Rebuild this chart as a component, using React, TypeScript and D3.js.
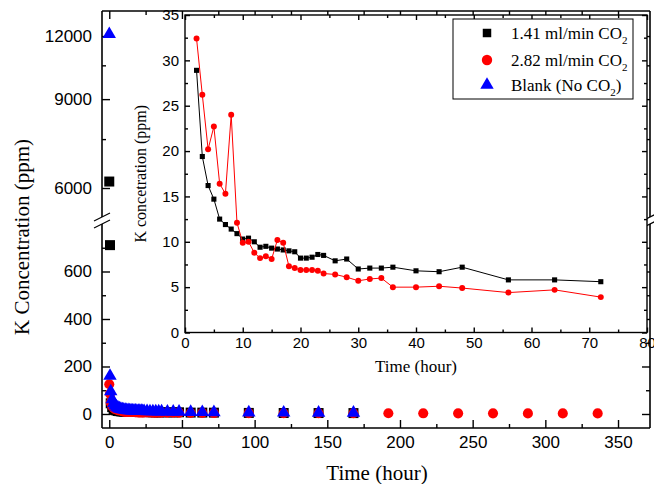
import { useRef, useEffect } from "react";
import * as d3 from "d3";

// sampling times (hour) used in the inset and the main plot
const insetHours = [2, 3, 4, 5, 6, 7, 8, 9, 10, 11, 12, 13, 14, 15, 16, 17, 18, 19, 20, 21, 22, 23, 24, 26, 28, 30, 32, 34, 36, 40, 44, 48, 56, 64, 72];
const k141 = [28.9, 19.4, 16.2, 14.7, 12.5, 11.9, 11.4, 10.9, 10.3, 10.4, 10.0, 9.4, 9.5, 9.3, 9.2, 9.1, 9.0, 8.9, 8.2, 8.2, 8.3, 8.6, 8.5, 7.9, 8.1, 7.0, 7.1, 7.1, 7.2, 6.8, 6.7, 7.2, 5.8, 5.8, 5.6];
const k282 = [32.4, 26.2, 20.2, 22.7, 16.4, 15.3, 24.0, 12.1, 9.9, 10.0, 8.8, 8.2, 8.4, 8.1, 10.2, 9.9, 7.3, 7.1, 6.9, 6.9, 6.9, 6.8, 6.5, 6.4, 6.1, 5.7, 5.9, 6.0, 5.0, 5.0, 5.1, 4.9, 4.4, 4.7, 3.9];
const blankMid = [62, 45, 36, 30, 26, 23, 21, 19, 18, 17, 16, 15.5, 15, 14.5, 14, 14, 13.5, 13, 13, 12.5, 12.5, 12, 12, 11.5, 11, 11, 10.5, 10, 10, 9.5, 9, 9, 8, 7.5, 7];

const earlyHours = [0, 0.5, 1];
const k141Early = [6180, 711, 45];
const k282Early = [125, 85, 48];
const blankEarly = [12100, 160, 95];

const k141LateHours = [96, 120, 144, 168];
const k141Late = [4.5, 4.2, 4.0, 3.8];
const k282LateHours = [96, 120, 144, 168, 192, 216, 240, 264, 288, 312, 336];
const k282Late = [3.5, 3.3, 3.1, 3.0, 2.9, 2.8, 2.7, 2.6, 2.5, 2.5, 2.4];
const blankLateHours = [96, 120, 144, 168];
const blankLate = [6, 5.5, 5, 5];

const xTicks = [0, 50, 100, 150, 200, 250, 300, 350];
const yLowTicks = [0, 200, 400, 600];
const yHighTicks = [6000, 9000, 12000];
const insetXTicks = [0, 10, 20, 30, 40, 50, 60, 70, 80];
const insetYTicks = [0, 5, 10, 15, 20, 25, 30, 35];

const legendItems = [
  { label: "1.41 ml/min CO", sub: "2", tail: "", shape: "square", color: "#000000" },
  { label: "2.82 ml/min CO", sub: "2", tail: "", shape: "circle", color: "#ff0000" },
  { label: "Blank (No CO", sub: "2", tail: ")", shape: "triangle", color: "#0000ff" },
];

export default function App() {
  const ref = useRef<SVGSVGElement>(null);

  function init() {
    const svg = d3.select(ref.current);
    svg.selectAll("*").remove();

    const sans = "'Liberation Sans', Arial, sans-serif";
    const serif = "'Liberation Serif', 'Times New Roman', serif";

    const m = { left: 102, right: 650, top: 11, bottom: 428 };
    const x = d3.scaleLinear().domain([-5, 372]).range([m.left, m.right]);
    const yLow = d3.scaleLinear().domain([-59, 800]).range([m.bottom, 224]);
    const yHigh = d3.scaleLog().domain([5257, 13453]).range([217, m.top]);
    const yMain = (v: number) => (v <= 800 ? yLow(v) : yHigh(v));

    const shapes: Record<string, d3.SymbolType> = {
      square: d3.symbolSquare,
      circle: d3.symbolCircle,
      triangle: d3.symbolTriangle,
    };
    const mainSize: Record<string, number> = { square: 100, circle: 80, triangle: 78 };

    const zip = (hs: number[], vs: number[]) => hs.map((h, i) => [h, vs[i]] as [number, number]);
    const mainSeries = [
      { shape: "square", color: "#000", pts: [...zip(earlyHours, k141Early), ...zip(insetHours, k141), ...zip(k141LateHours, k141Late)] },
      { shape: "circle", color: "#ff0000", pts: [...zip(earlyHours, k282Early), ...zip(insetHours, k282), ...zip(k282LateHours, k282Late)] },
      { shape: "triangle", color: "#0000ff", pts: [...zip(earlyHours, blankEarly), ...zip(insetHours, blankMid), ...zip(blankLateHours, blankLate)] },
    ];

    // main ticks
    const styleAxis = (g: any, size = 17) => {
      g.select(".domain").remove();
      g.selectAll("line").attr("stroke", "#000").attr("stroke-width", 1.4);
      g.selectAll("text").attr("font-family", sans).attr("font-size", size).attr("fill", "#000");
    };
    const noLabel = () => "";

    svg.append("g").attr("transform", `translate(0,${m.bottom})`)
      .call(d3.axisBottom(x).tickValues(xTicks).tickSize(-8).tickPadding(8).tickFormat(d3.format("d")))
      .call(styleAxis);
    svg.append("g").attr("transform", `translate(0,${m.bottom})`)
      .call(d3.axisBottom(x).tickValues(d3.range(25, 350, 50)).tickSize(-4).tickFormat(noLabel))
      .call(styleAxis);
    svg.append("g").attr("transform", `translate(0,${m.top})`)
      .call(d3.axisTop(x).tickValues(xTicks).tickSize(-8).tickFormat(noLabel))
      .call(styleAxis);
    svg.append("g").attr("transform", `translate(0,${m.top})`)
      .call(d3.axisTop(x).tickValues(d3.range(25, 350, 50)).tickSize(-4).tickFormat(noLabel))
      .call(styleAxis);

    const yAxes = [
      { s: yLow, major: yLowTicks, minor: [100, 300, 500, 700] },
      { s: yHigh, major: yHighTicks, minor: [7500, 10500] },
    ];
    yAxes.forEach(({ s, major, minor }) => {
      svg.append("g").attr("transform", `translate(${m.left},0)`)
        .call(d3.axisLeft(s as any).tickValues(major).tickSize(-8).tickPadding(10).tickFormat(d3.format("d") as any))
        .call(styleAxis);
      svg.append("g").attr("transform", `translate(${m.left},0)`)
        .call(d3.axisLeft(s as any).tickValues(minor).tickSize(-4).tickFormat(noLabel))
        .call(styleAxis);
      svg.append("g").attr("transform", `translate(${m.right},0)`)
        .call(d3.axisRight(s as any).tickValues(major).tickSize(-8).tickFormat(noLabel))
        .call(styleAxis);
      svg.append("g").attr("transform", `translate(${m.right},0)`)
        .call(d3.axisRight(s as any).tickValues(minor).tickSize(-4).tickFormat(noLabel))
        .call(styleAxis);
    });

    // main frame with axis breaks
    const frame = svg.append("g").attr("stroke", "#000").attr("stroke-width", 1.6).attr("fill", "none");
    frame.append("line").attr("x1", m.left).attr("x2", m.right).attr("y1", m.bottom).attr("y2", m.bottom);
    frame.append("line").attr("x1", m.left).attr("x2", m.right).attr("y1", m.top).attr("y2", m.top);
    [m.left, m.right].forEach((xx) => {
      frame.append("line").attr("x1", xx).attr("x2", xx).attr("y1", m.bottom).attr("y2", yLow.range()[1]);
      frame.append("line").attr("x1", xx).attr("x2", xx).attr("y1", yHigh.range()[0]).attr("y2", m.top);
      [yLow.range()[1], yHigh.range()[0]].forEach((yy) => {
        frame.append("line").attr("x1", xx - 8).attr("y1", yy + 4).attr("x2", xx + 8).attr("y2", yy - 4).attr("stroke-width", 1.2);
      });
    });

    // main markers
    mainSeries.forEach((sr) => {
      svg.append("g").selectAll("path").data(sr.pts).join("path")
        .attr("transform", (d) => `translate(${x(d[0])},${yMain(d[1])})`)
        .attr("d", d3.symbol(shapes[sr.shape], mainSize[sr.shape])() as string)
        .attr("fill", sr.color);
    });

    // main axis titles
    svg.append("text").attr("x", 377).attr("y", 480).attr("text-anchor", "middle")
      .attr("font-family", serif).attr("font-size", 21).text("Time (hour)");
    svg.append("text").attr("transform", "translate(29,237) rotate(-90)").attr("text-anchor", "middle")
      .attr("font-family", serif).attr("font-size", 21).text("K Concentration (ppm)");

    // inset
    const im = { left: 185, right: 647, top: 15, bottom: 332.5 };
    const ix = d3.scaleLinear().domain([0, 80]).range([im.left, im.right]);
    const iy = d3.scaleLinear().domain([0, 35]).range([im.bottom, im.top]);
    const inset = svg.append("g");
    inset.append("rect").attr("x", im.left).attr("y", im.top)
      .attr("width", im.right - im.left).attr("height", im.bottom - im.top).attr("fill", "#fff");

    const styleInset = (g: any) => styleAxis(g, 15);
    inset.append("g").attr("transform", `translate(0,${im.bottom})`)
      .call(d3.axisBottom(ix).tickValues(insetXTicks).tickSize(-5).tickPadding(5))
      .call(styleInset);
    inset.append("g").attr("transform", `translate(0,${im.bottom})`)
      .call(d3.axisBottom(ix).tickValues(d3.range(5, 80, 10)).tickSize(-3).tickFormat(noLabel))
      .call(styleInset);
    inset.append("g").attr("transform", `translate(0,${im.top})`)
      .call(d3.axisTop(ix).tickValues(insetXTicks).tickSize(-5).tickFormat(noLabel))
      .call(styleInset);
    inset.append("g").attr("transform", `translate(0,${im.top})`)
      .call(d3.axisTop(ix).tickValues(d3.range(5, 80, 10)).tickSize(-3).tickFormat(noLabel))
      .call(styleInset);
    inset.append("g").attr("transform", `translate(${im.left},0)`)
      .call(d3.axisLeft(iy).tickValues(insetYTicks).tickSize(-5).tickPadding(6))
      .call(styleInset);
    inset.append("g").attr("transform", `translate(${im.left},0)`)
      .call(d3.axisLeft(iy).tickValues(d3.range(2.5, 35, 5)).tickSize(-3).tickFormat(noLabel))
      .call(styleInset);
    inset.append("g").attr("transform", `translate(${im.right},0)`)
      .call(d3.axisRight(iy).tickValues(insetYTicks).tickSize(-5).tickFormat(noLabel))
      .call(styleInset);
    inset.append("g").attr("transform", `translate(${im.right},0)`)
      .call(d3.axisRight(iy).tickValues(d3.range(2.5, 35, 5)).tickSize(-3).tickFormat(noLabel))
      .call(styleInset);
    inset.append("rect").attr("x", im.left).attr("y", im.top)
      .attr("width", im.right - im.left).attr("height", im.bottom - im.top)
      .attr("fill", "none").attr("stroke", "#000").attr("stroke-width", 1.4);

    const line = d3.line<[number, number]>().x((d) => ix(d[0])).y((d) => iy(d[1]));
    const insetSeries = [
      { shape: "square", color: "#000", size: 26, pts: zip(insetHours, k141) },
      { shape: "circle", color: "#ff0000", size: 28, pts: zip(insetHours, k282) },
    ];
    insetSeries.forEach((sr) => {
      inset.append("path").datum(sr.pts).attr("d", line).attr("fill", "none")
        .attr("stroke", sr.color).attr("stroke-width", 1);
      inset.append("g").selectAll("path").data(sr.pts).join("path")
        .attr("transform", (d) => `translate(${ix(d[0])},${iy(d[1])})`)
        .attr("d", d3.symbol(shapes[sr.shape], sr.size)() as string)
        .attr("fill", sr.color);
    });

    inset.append("text").attr("x", (im.left + im.right) / 2).attr("y", 372).attr("text-anchor", "middle")
      .attr("font-family", serif).attr("font-size", 17).text("Time (hour)");
    inset.append("text").attr("transform", `translate(146,${(im.top + im.bottom) / 2}) rotate(-90)`)
      .attr("text-anchor", "middle").attr("font-family", serif).attr("font-size", 16)
      .text("K concetration (ppm)");

    // legend
    const lg = svg.append("g");
    lg.append("rect").attr("x", 453).attr("y", 19).attr("width", 180).attr("height", 80)
      .attr("fill", "#fff").attr("stroke", "#000").attr("stroke-width", 1);
    const legendSize: Record<string, number> = { square: 72, circle: 85, triangle: 78 };
    const rowY = [33, 60, 85];
    legendItems.forEach((it, i) => {
      lg.append("path").attr("transform", `translate(487,${rowY[i]})`)
        .attr("d", d3.symbol(shapes[it.shape], legendSize[it.shape])() as string)
        .attr("fill", it.color);
      const t = lg.append("text").attr("x", 511).attr("y", rowY[i] + 6)
        .attr("font-family", serif).attr("font-size", 17).attr("fill", "#000");
      t.append("tspan").text(it.label);
      t.append("tspan").attr("font-size", 11).attr("dy", 5).text(it.sub);
      if (it.tail) t.append("tspan").attr("dy", -5).text(it.tail);
    });
  }

  useEffect(init, []);
  return (
    <svg ref={ref} width={654} height={484}
      style={{ position: "absolute", left: 0, top: 0, background: "#fff" }} />
  );
}
